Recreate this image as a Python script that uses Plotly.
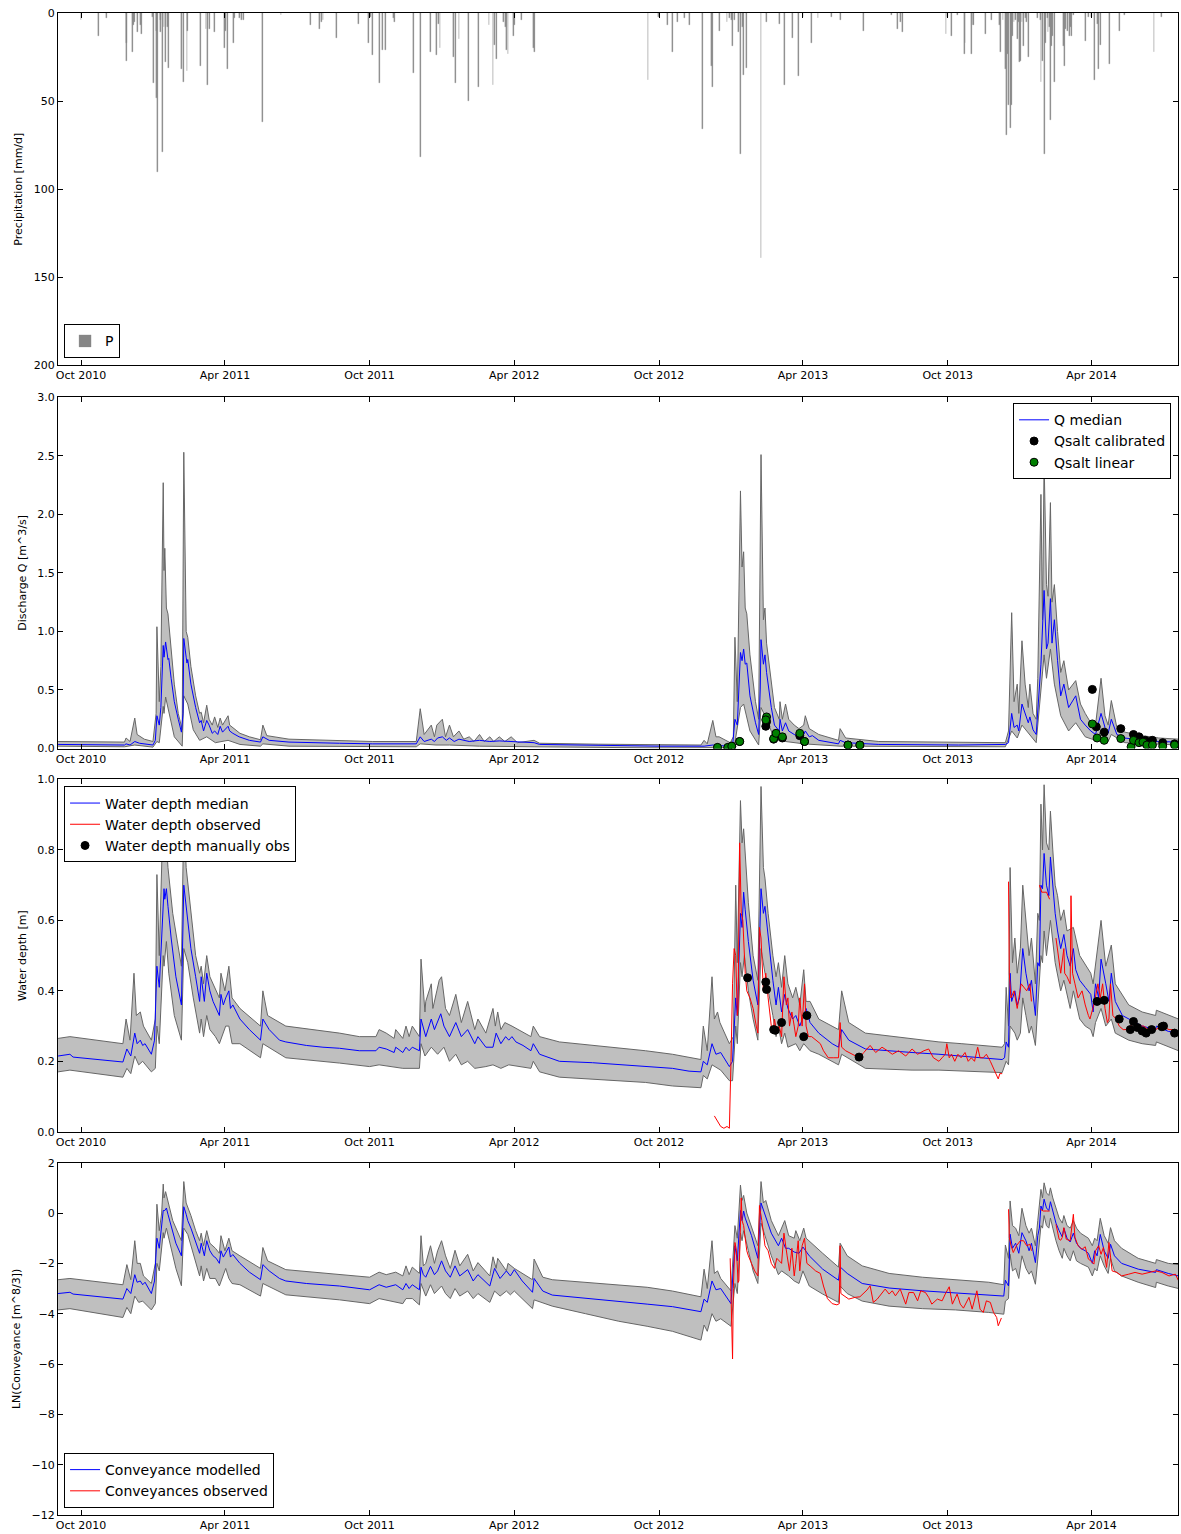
import plotly.graph_objects as go

# ---------------- DATA ----------------
P_RAIN = [
    ("2010-10-01", 4), ("2010-10-23", 13), ("2010-11-02", 3), ("2010-11-27", 27), ("2010-11-28", 17),
    ("2010-12-05", 22), ("2010-12-06", 7), ("2010-12-08", 5), ("2010-12-12", 11), ("2010-12-15", 7),
    ("2010-12-17", 12), ("2010-12-30", 2), ("2011-01-01", 40), ("2011-01-04", 10), ("2011-01-05", 48),
    ("2011-01-06", 90), ("2011-01-09", 4), ("2011-01-10", 11), ("2011-01-12", 79), ("2011-01-14", 8),
    ("2011-01-16", 28), ("2011-01-18", 8), ("2011-01-20", 31), ("2011-02-05", 32), ("2011-02-08", 39),
    ("2011-02-12", 33), ("2011-02-13", 10), ("2011-03-01", 30), ("2011-03-08", 9), ("2011-03-10", 41),
    ("2011-03-12", 9), ("2011-03-19", 11), ("2011-04-01", 20), ("2011-04-02", 10), ("2011-04-04", 32),
    ("2011-04-12", 17), ("2011-04-13", 3), ("2011-04-19", 3), ("2011-04-22", 4), ("2011-04-25", 4),
    ("2011-05-19", 62), ("2011-06-11", 1), ("2011-07-18", 7), ("2011-07-30", 9), ("2011-08-01", 5),
    ("2011-08-03", 4), ("2011-08-20", 14), ("2011-09-17", 6), ("2011-09-30", 17), ("2011-10-02", 2),
    ("2011-10-05", 24), ("2011-10-14", 40), ("2011-10-17", 21), ("2011-10-21", 21), ("2011-10-31", 3),
    ("2011-11-01", 5), ("2011-11-25", 34), ("2011-12-04", 82), ("2011-12-17", 22), ("2011-12-25", 24),
    ("2011-12-27", 6), ("2011-12-29", 20), ("2012-01-15", 25), ("2012-01-18", 40), ("2012-01-22", 15),
    ("2012-02-03", 50), ("2012-02-16", 42), ("2012-02-29", 7), ("2012-03-05", 41), ("2012-03-07", 18),
    ("2012-03-09", 26), ("2012-03-18", 5), ("2012-03-21", 8), ("2012-03-22", 21), ("2012-03-24", 23),
    ("2012-03-31", 13), ("2012-04-01", 7), ("2012-04-10", 4), ("2012-04-25", 20), ("2012-04-26", 22),
    ("2012-09-17", 38), ("2012-09-30", 2), ("2012-10-12", 7), ("2012-10-18", 22), ("2012-10-24", 5),
    ("2012-11-02", 3), ("2012-11-09", 7), ("2012-11-25", 66), ("2012-12-06", 30), ("2012-12-08", 42),
    ("2012-12-17", 10), ("2012-12-26", 5), ("2012-12-29", 3), ("2013-01-01", 4), ("2013-01-02", 19),
    ("2013-01-04", 4), ("2013-01-10", 11), ("2013-01-12", 80), ("2013-01-15", 8), ("2013-01-16", 35),
    ("2013-01-20", 31), ("2013-02-07", 139), ("2013-02-14", 5), ("2013-03-02", 6), ("2013-03-09", 41),
    ("2013-03-19", 14), ("2013-03-26", 36), ("2013-04-01", 2), ("2013-04-12", 17), ("2013-04-20", 3),
    ("2013-05-07", 2), ("2013-05-19", 4), ("2013-06-17", 10), ("2013-07-22", 1), ("2013-07-30", 9),
    ("2013-08-02", 5), ("2013-08-05", 11), ("2013-09-29", 12), ("2013-10-01", 2), ("2013-10-06", 13),
    ("2013-10-14", 1), ("2013-10-22", 23), ("2013-10-23", 17), ("2013-10-31", 23), ("2013-11-02", 7),
    ("2013-11-03", 7), ("2013-11-18", 12), ("2013-11-26", 4), ("2013-12-06", 7), ("2013-12-07", 22),
    ("2013-12-10", 4), ("2013-12-13", 32), ("2013-12-14", 69), ("2013-12-16", 23), ("2013-12-17", 52),
    ("2013-12-19", 65), ("2013-12-21", 52), ("2013-12-22", 13), ("2013-12-24", 5), ("2013-12-26", 4),
    ("2013-12-28", 15), ("2013-12-30", 5), ("2013-12-31", 28), ("2014-01-01", 27), ("2014-01-03", 5),
    ("2014-01-05", 19), ("2014-01-07", 3), ("2014-01-09", 5), ("2014-01-11", 25), ("2014-01-23", 3),
    ("2014-01-26", 4), ("2014-01-27", 39), ("2014-01-29", 27), ("2014-01-31", 80), ("2014-02-02", 17),
    ("2014-02-04", 3), ("2014-02-05", 11), ("2014-02-07", 8), ("2014-02-08", 61), ("2014-02-09", 19),
    ("2014-02-11", 13), ("2014-02-13", 39), ("2014-02-24", 19), ("2014-02-26", 30), ("2014-02-27", 9),
    ("2014-03-02", 10), ("2014-03-04", 13), ("2014-03-05", 8), ("2014-03-07", 13), ("2014-03-09", 1),
    ("2014-03-24", 16), ("2014-03-28", 2), ("2014-04-01", 2), ("2014-04-05", 38), ("2014-04-08", 6),
    ("2014-04-10", 32), ("2014-04-12", 18), ("2014-04-24", 29), ("2014-05-06", 10), ("2014-05-13", 1),
    ("2014-06-19", 22), ("2014-06-28", 2),
]

Q_MED = [
    ("2010-09-02", 0.035), ("2010-11-25", 0.03), ("2010-11-27", 0.04), ("2010-12-02", 0.03),
    ("2010-12-08", 0.06), ("2010-12-14", 0.045), ("2010-12-31", 0.03), ("2011-01-03", 0.07),
    ("2011-01-05", 0.28), ("2011-01-08", 0.2), ("2011-01-10", 0.35), ("2011-01-13", 0.88),
    ("2011-01-14", 0.78), ("2011-01-16", 0.91), ("2011-01-19", 0.76), ("2011-01-20", 0.77),
    ("2011-01-23", 0.6), ("2011-01-27", 0.4), ("2011-02-01", 0.25), ("2011-02-05", 0.14),
    ("2011-02-07", 0.3), ("2011-02-08", 0.94), ("2011-02-11", 0.78), ("2011-02-12", 0.73),
    ("2011-02-13", 0.76), ("2011-02-17", 0.55), ("2011-02-23", 0.35), ("2011-02-28", 0.22),
    ("2011-03-02", 0.24), ("2011-03-05", 0.15), ("2011-03-09", 0.24), ("2011-03-12", 0.2),
    ("2011-03-16", 0.13), ("2011-03-19", 0.15), ("2011-03-23", 0.12), ("2011-03-26", 0.19),
    ("2011-03-29", 0.14), ("2011-04-02", 0.17), ("2011-04-05", 0.19), ("2011-04-07", 0.15),
    ("2011-04-11", 0.13), ("2011-04-19", 0.1), ("2011-05-02", 0.07), ("2011-05-16", 0.055),
    ("2011-05-19", 0.1), ("2011-05-27", 0.07), ("2011-06-21", 0.055), ("2011-08-24", 0.045),
    ("2011-10-05", 0.04), ("2011-11-29", 0.04), ("2011-12-04", 0.1), ("2011-12-09", 0.06),
    ("2011-12-18", 0.08), ("2011-12-22", 0.06), ("2011-12-26", 0.09), ("2012-01-01", 0.1),
    ("2012-01-06", 0.07), ("2012-01-10", 0.09), ("2012-01-16", 0.06), ("2012-01-22", 0.08),
    ("2012-02-04", 0.06), ("2012-02-17", 0.07), ("2012-03-01", 0.06), ("2012-03-13", 0.065),
    ("2012-03-28", 0.06), ("2012-04-26", 0.05), ("2012-05-03", 0.035), ("2012-07-17", 0.025),
    ("2012-10-01", 0.02), ("2012-11-27", 0.02), ("2012-12-08", 0.03), ("2012-12-16", 0.025),
    ("2013-01-02", 0.02), ("2013-01-05", 0.25), ("2013-01-08", 0.2), ("2013-01-12", 0.82),
    ("2013-01-14", 0.75), ("2013-01-16", 0.85), ("2013-01-18", 0.72), ("2013-01-20", 0.73),
    ("2013-01-24", 0.45), ("2013-01-31", 0.22), ("2013-02-04", 0.12), ("2013-02-06", 0.5),
    ("2013-02-07", 0.93), ("2013-02-10", 0.72), ("2013-02-12", 0.8), ("2013-02-14", 0.65),
    ("2013-02-20", 0.35), ("2013-02-24", 0.2), ("2013-03-02", 0.15), ("2013-03-03", 0.25),
    ("2013-03-06", 0.15), ("2013-03-10", 0.22), ("2013-03-14", 0.15), ("2013-03-21", 0.12),
    ("2013-03-27", 0.1), ("2013-04-02", 0.12), ("2013-04-04", 0.15), ("2013-04-09", 0.1),
    ("2013-04-13", 0.11), ("2013-04-21", 0.07), ("2013-05-16", 0.04), ("2013-05-18", 0.07),
    ("2013-05-25", 0.05), ("2013-07-06", 0.035), ("2013-10-15", 0.03), ("2013-12-13", 0.035),
    ("2013-12-17", 0.05), ("2013-12-21", 0.3), ("2013-12-24", 0.18), ("2013-12-28", 0.2),
    ("2013-12-30", 0.15), ("2014-01-03", 0.38), ("2014-01-07", 0.3), ("2014-01-11", 0.22),
    ("2014-01-13", 0.27), ("2014-01-17", 0.16), ("2014-01-21", 0.12), ("2014-01-23", 0.3),
    ("2014-01-27", 0.72), ("2014-01-31", 1.35), ("2014-02-03", 0.85), ("2014-02-05", 0.9),
    ("2014-02-08", 1.28), ("2014-02-10", 0.9), ("2014-02-13", 1.1), ("2014-02-17", 0.75),
    ("2014-02-21", 0.45), ("2014-02-25", 0.55), ("2014-03-03", 0.35), ("2014-03-12", 0.45),
    ("2014-03-18", 0.25), ("2014-03-24", 0.2), ("2014-03-31", 0.15), ("2014-04-06", 0.12),
    ("2014-04-13", 0.3), ("2014-04-18", 0.18), ("2014-04-22", 0.13), ("2014-04-26", 0.25),
    ("2014-05-03", 0.12), ("2014-05-13", 0.09), ("2014-06-04", 0.07), ("2014-06-25", 0.06),
    ("2014-07-20", 0.055),
]

Q_UP = [
    ("2010-09-02", 0.06), ("2010-11-25", 0.055), ("2010-11-27", 0.09), ("2010-12-02", 0.06),
    ("2010-12-08", 0.26), ("2010-12-11", 0.12), ("2010-12-20", 0.08), ("2010-12-31", 0.06),
    ("2011-01-04", 0.3), ("2011-01-05", 1.04), ("2011-01-08", 0.4), ("2011-01-10", 0.7),
    ("2011-01-13", 2.27), ("2011-01-14", 1.52), ("2011-01-15", 1.71), ("2011-01-17", 1.2),
    ("2011-01-19", 1.15), ("2011-01-23", 0.85), ("2011-01-27", 0.55), ("2011-02-01", 0.3),
    ("2011-02-06", 0.16), ("2011-02-08", 2.53), ("2011-02-11", 1.0), ("2011-02-13", 0.95),
    ("2011-02-17", 0.7), ("2011-02-23", 0.45), ("2011-02-28", 0.3), ("2011-03-02", 0.31),
    ("2011-03-05", 0.22), ("2011-03-09", 0.37), ("2011-03-12", 0.25), ("2011-03-16", 0.2),
    ("2011-03-19", 0.27), ("2011-03-23", 0.18), ("2011-03-26", 0.26), ("2011-03-29", 0.2),
    ("2011-04-02", 0.24), ("2011-04-05", 0.28), ("2011-04-07", 0.2), ("2011-04-12", 0.17),
    ("2011-04-20", 0.13), ("2011-05-02", 0.1), ("2011-05-16", 0.075), ("2011-05-19", 0.2),
    ("2011-05-24", 0.11), ("2011-06-21", 0.08), ("2011-08-24", 0.065), ("2011-10-05", 0.06),
    ("2011-11-29", 0.06), ("2011-12-04", 0.34), ("2011-12-09", 0.12), ("2011-12-18", 0.2),
    ("2011-12-22", 0.1), ("2011-12-25", 0.2), ("2012-01-01", 0.25), ("2012-01-05", 0.1),
    ("2012-01-10", 0.2), ("2012-01-15", 0.1), ("2012-01-22", 0.15), ("2012-01-28", 0.08),
    ("2012-02-04", 0.1), ("2012-02-10", 0.06), ("2012-02-17", 0.12), ("2012-02-23", 0.06),
    ("2012-03-01", 0.1), ("2012-03-06", 0.06), ("2012-03-13", 0.1), ("2012-03-20", 0.06),
    ("2012-03-28", 0.1), ("2012-04-05", 0.05), ("2012-04-26", 0.07), ("2012-05-03", 0.045),
    ("2012-07-17", 0.037), ("2012-10-01", 0.033), ("2012-11-23", 0.03), ("2012-11-27", 0.07),
    ("2012-12-01", 0.04), ("2012-12-08", 0.24), ("2012-12-12", 0.1), ("2012-12-16", 0.1),
    ("2012-12-30", 0.05), ("2013-01-03", 0.1), ("2013-01-05", 0.95), ("2013-01-08", 0.4),
    ("2013-01-12", 2.2), ("2013-01-14", 1.55), ("2013-01-16", 1.68), ("2013-01-18", 1.2),
    ("2013-01-20", 1.15), ("2013-01-24", 0.8), ("2013-01-31", 0.4), ("2013-02-04", 0.25),
    ("2013-02-07", 2.51), ("2013-02-10", 1.1), ("2013-02-12", 1.2), ("2013-02-14", 0.9),
    ("2013-02-20", 0.55), ("2013-02-24", 0.35), ("2013-03-02", 0.25), ("2013-03-03", 0.4),
    ("2013-03-06", 0.25), ("2013-03-10", 0.38), ("2013-03-14", 0.25), ("2013-03-21", 0.2),
    ("2013-03-27", 0.17), ("2013-04-02", 0.2), ("2013-04-04", 0.28), ("2013-04-09", 0.17),
    ("2013-04-21", 0.12), ("2013-05-16", 0.07), ("2013-05-18", 0.17), ("2013-05-25", 0.09),
    ("2013-07-06", 0.06), ("2013-08-26", 0.055), ("2013-12-13", 0.05), ("2013-12-17", 0.15),
    ("2013-12-21", 1.16), ("2013-12-24", 0.4), ("2013-12-28", 0.55), ("2013-12-30", 0.3),
    ("2014-01-03", 0.92), ("2014-01-07", 0.55), ("2014-01-11", 0.35), ("2014-01-13", 0.55),
    ("2014-01-17", 0.3), ("2014-01-21", 0.25), ("2014-01-23", 0.6), ("2014-01-27", 2.17),
    ("2014-01-29", 1.1), ("2014-01-31", 2.46), ("2014-02-03", 1.4), ("2014-02-05", 1.3),
    ("2014-02-08", 2.1), ("2014-02-10", 1.25), ("2014-02-13", 1.4), ("2014-02-17", 1.0),
    ("2014-02-21", 0.65), ("2014-02-25", 0.75), ("2014-03-03", 0.5), ("2014-03-12", 0.58),
    ("2014-03-18", 0.38), ("2014-03-24", 0.3), ("2014-03-31", 0.22), ("2014-04-06", 0.2),
    ("2014-04-13", 0.6), ("2014-04-18", 0.28), ("2014-04-22", 0.2), ("2014-04-26", 0.41),
    ("2014-05-03", 0.18), ("2014-05-13", 0.14), ("2014-06-04", 0.11), ("2014-06-25", 0.09),
    ("2014-07-20", 0.08),
]

Q_LO = [
    ("2010-09-02", 0.02), ("2010-11-25", 0.015), ("2010-12-08", 0.03), ("2010-12-31", 0.012),
    ("2011-01-05", 0.06), ("2011-01-08", 0.05), ("2011-01-13", 0.36), ("2011-01-14", 0.3),
    ("2011-01-16", 0.44), ("2011-01-20", 0.3), ("2011-01-27", 0.1), ("2011-02-06", 0.02),
    ("2011-02-08", 0.45), ("2011-02-13", 0.38), ("2011-02-20", 0.16), ("2011-02-28", 0.07),
    ("2011-03-09", 0.1), ("2011-03-20", 0.05), ("2011-04-05", 0.07), ("2011-04-20", 0.035),
    ("2011-05-16", 0.02), ("2011-05-19", 0.04), ("2011-06-21", 0.02), ("2011-11-29", 0.015),
    ("2011-12-04", 0.04), ("2011-12-24", 0.03), ("2012-01-10", 0.03), ("2012-02-17", 0.02),
    ("2012-04-26", 0.015), ("2012-10-01", 0.005), ("2012-12-08", 0.008), ("2013-01-02", 0.005),
    ("2013-01-05", 0.05), ("2013-01-12", 0.35), ("2013-01-16", 0.38), ("2013-01-24", 0.15),
    ("2013-02-04", 0.03), ("2013-02-07", 0.35), ("2013-02-14", 0.25), ("2013-02-24", 0.08),
    ("2013-03-10", 0.06), ("2013-04-02", 0.04), ("2013-05-18", 0.02), ("2013-12-13", 0.015),
    ("2013-12-21", 0.15), ("2013-12-28", 0.09), ("2014-01-03", 0.2), ("2014-01-21", 0.05),
    ("2014-01-27", 0.5), ("2014-01-31", 0.8), ("2014-02-03", 0.6), ("2014-02-08", 0.85),
    ("2014-02-13", 0.55), ("2014-02-21", 0.28), ("2014-03-03", 0.15), ("2014-03-12", 0.22),
    ("2014-03-24", 0.1), ("2014-04-06", 0.07), ("2014-04-13", 0.15), ("2014-04-22", 0.06),
    ("2014-04-26", 0.12), ("2014-05-13", 0.05), ("2014-07-20", 0.03),
]

Q_CALIBRATED = [
    ("2012-12-14", 0.005), ("2012-12-27", 0.005), ("2013-01-01", 0.02), ("2013-01-11", 0.06),
    ("2013-02-13", 0.19), ("2013-02-14", 0.23), ("2013-02-23", 0.08), ("2013-02-26", 0.12),
    ("2013-03-06", 0.09), ("2013-03-28", 0.11), ("2013-04-03", 0.06), ("2013-05-28", 0.03),
    ("2013-06-12", 0.03), ("2014-04-02", 0.505), ("2014-04-07", 0.185), ("2014-04-17", 0.14),
    ("2014-05-08", 0.17), ("2014-05-24", 0.12), ("2014-05-31", 0.1), ("2014-06-08", 0.07),
    ("2014-06-17", 0.07), ("2014-06-30", 0.05), ("2014-07-15", 0.04),
]

Q_LINEAR = [
    ("2012-12-14", 0.01), ("2012-12-27", 0.01), ("2013-01-01", 0.02), ("2013-01-11", 0.06),
    ("2013-02-14", 0.27), ("2013-02-13", 0.245), ("2013-02-23", 0.085), ("2013-02-26", 0.13),
    ("2013-03-06", 0.1), ("2013-03-28", 0.13), ("2013-04-03", 0.06), ("2013-05-28", 0.03),
    ("2013-06-12", 0.03), ("2014-04-02", 0.21), ("2014-04-08", 0.09), ("2014-04-17", 0.07),
    ("2014-05-08", 0.085), ("2014-05-21", 0.015), ("2014-05-24", 0.07), ("2014-05-31", 0.05),
    ("2014-06-05", 0.055), ("2014-06-10", 0.03), ("2014-06-17", 0.03), ("2014-06-30", 0.02),
    ("2014-07-15", 0.03),
]

D_MED = [
    ("2010-09-02", 0.215), ("2010-09-17", 0.22), ("2010-09-21", 0.212), ("2010-11-23", 0.198),
    ("2010-11-28", 0.235), ("2010-12-03", 0.215), ("2010-12-08", 0.28), ("2010-12-11", 0.25),
    ("2010-12-15", 0.26), ("2010-12-18", 0.245), ("2010-12-21", 0.25), ("2010-12-29", 0.22),
    ("2011-01-02", 0.26), ("2011-01-05", 0.47), ("2011-01-08", 0.41), ("2011-01-13", 0.66),
    ("2011-01-14", 0.69), ("2011-01-15", 0.66), ("2011-01-17", 0.69), ("2011-01-19", 0.64),
    ("2011-01-23", 0.55), ("2011-01-29", 0.44), ("2011-02-05", 0.36), ("2011-02-08", 0.7),
    ("2011-02-11", 0.64), ("2011-02-13", 0.61), ("2011-02-17", 0.52), ("2011-02-23", 0.44),
    ("2011-02-28", 0.37), ("2011-03-02", 0.44), ("2011-03-06", 0.37), ("2011-03-09", 0.45),
    ("2011-03-13", 0.4), ("2011-03-17", 0.37), ("2011-03-21", 0.35), ("2011-03-25", 0.33),
    ("2011-03-27", 0.39), ("2011-03-30", 0.36), ("2011-04-02", 0.38), ("2011-04-06", 0.4),
    ("2011-04-08", 0.35), ("2011-04-11", 0.36), ("2011-04-20", 0.32), ("2011-05-02", 0.29),
    ("2011-05-16", 0.26), ("2011-05-19", 0.32), ("2011-05-27", 0.29), ("2011-06-09", 0.26),
    ("2011-06-17", 0.255), ("2011-07-13", 0.245), ("2011-08-03", 0.24), ("2011-08-24", 0.237),
    ("2011-09-18", 0.23), ("2011-10-09", 0.23), ("2011-10-13", 0.24), ("2011-10-22", 0.235),
    ("2011-11-01", 0.225), ("2011-11-03", 0.24), ("2011-11-12", 0.225), ("2011-11-16", 0.24),
    ("2011-11-20", 0.23), ("2011-11-24", 0.24), ("2011-12-03", 0.23), ("2011-12-05", 0.32),
    ("2011-12-11", 0.27), ("2011-12-18", 0.32), ("2011-12-22", 0.29), ("2011-12-26", 0.31),
    ("2011-12-30", 0.335), ("2012-01-03", 0.3), ("2012-01-10", 0.27), ("2012-01-18", 0.31),
    ("2012-01-25", 0.27), ("2012-02-02", 0.29), ("2012-02-11", 0.25), ("2012-02-15", 0.27),
    ("2012-02-25", 0.24), ("2012-03-05", 0.24), ("2012-03-09", 0.28), ("2012-03-15", 0.25),
    ("2012-03-21", 0.27), ("2012-03-25", 0.26), ("2012-03-29", 0.27), ("2012-04-03", 0.255),
    ("2012-04-12", 0.245), ("2012-04-22", 0.23), ("2012-04-25", 0.25), ("2012-05-03", 0.22),
    ("2012-05-28", 0.2), ("2012-07-09", 0.196), ("2012-09-14", 0.185), ("2012-10-18", 0.18),
    ("2012-11-08", 0.172), ("2012-11-23", 0.17), ("2012-11-26", 0.2), ("2012-12-01", 0.19),
    ("2012-12-07", 0.25), ("2012-12-12", 0.22), ("2012-12-18", 0.225), ("2012-12-29", 0.185),
    ("2013-01-02", 0.2), ("2013-01-06", 0.38), ("2013-01-08", 0.33), ("2013-01-12", 0.62),
    ("2013-01-14", 0.58), ("2013-01-16", 0.68), ("2013-01-18", 0.63), ("2013-01-22", 0.54),
    ("2013-01-28", 0.43), ("2013-02-03", 0.36), ("2013-02-07", 0.69), ("2013-02-10", 0.62),
    ("2013-02-12", 0.64), ("2013-02-16", 0.55), ("2013-02-22", 0.43), ("2013-02-26", 0.36),
    ("2013-03-01", 0.41), ("2013-03-05", 0.34), ("2013-03-09", 0.39), ("2013-03-13", 0.35),
    ("2013-03-19", 0.32), ("2013-03-23", 0.33), ("2013-03-28", 0.3), ("2013-04-02", 0.33),
    ("2013-04-05", 0.35), ("2013-04-10", 0.31), ("2013-04-21", 0.28), ("2013-05-08", 0.25),
    ("2013-05-16", 0.24), ("2013-05-20", 0.29), ("2013-05-29", 0.26), ("2013-06-19", 0.235),
    ("2013-07-14", 0.23), ("2013-08-17", 0.225), ("2013-09-20", 0.22), ("2013-10-19", 0.215),
    ("2013-11-09", 0.21), ("2013-12-09", 0.205), ("2013-12-12", 0.21), ("2013-12-14", 0.255),
    ("2013-12-17", 0.24), ("2013-12-19", 0.45), ("2013-12-21", 0.37), ("2013-12-25", 0.4),
    ("2013-12-28", 0.36), ("2013-12-31", 0.38), ("2014-01-04", 0.52), ("2014-01-08", 0.45),
    ("2014-01-12", 0.4), ("2014-01-15", 0.43), ("2014-01-20", 0.33), ("2014-01-23", 0.48),
    ("2014-01-25", 0.47), ("2014-01-27", 0.7), ("2014-01-29", 0.69), ("2014-01-31", 0.79),
    ("2014-02-03", 0.7), ("2014-02-06", 0.67), ("2014-02-08", 0.78), ("2014-02-11", 0.7),
    ("2014-02-14", 0.62), ("2014-02-17", 0.57), ("2014-02-21", 0.52), ("2014-02-25", 0.56),
    ("2014-03-01", 0.5), ("2014-03-05", 0.47), ("2014-03-09", 0.52), ("2014-03-12", 0.46),
    ("2014-03-17", 0.43), ("2014-03-24", 0.41), ("2014-03-31", 0.39), ("2014-04-03", 0.34),
    ("2014-04-06", 0.42), ("2014-04-10", 0.38), ("2014-04-13", 0.49), ("2014-04-19", 0.42),
    ("2014-04-23", 0.37), ("2014-04-26", 0.45), ("2014-05-01", 0.37), ("2014-05-10", 0.33),
    ("2014-05-18", 0.32), ("2014-06-04", 0.3), ("2014-06-21", 0.29), ("2014-06-22", 0.3),
    ("2014-07-07", 0.285), ("2014-07-20", 0.28),
]

D_UP = [
    ("2010-09-02", 0.265), ("2010-09-17", 0.27), ("2010-11-23", 0.25), ("2010-11-27", 0.32),
    ("2010-12-02", 0.26), ("2010-12-07", 0.45), ("2010-12-10", 0.33), ("2010-12-15", 0.34),
    ("2010-12-19", 0.3), ("2010-12-29", 0.26), ("2011-01-03", 0.32), ("2011-01-05", 0.73),
    ("2011-01-08", 0.5), ("2011-01-13", 0.92), ("2011-01-14", 0.78), ("2011-01-16", 0.85),
    ("2011-01-19", 0.75), ("2011-01-25", 0.62), ("2011-02-05", 0.47), ("2011-02-08", 0.9),
    ("2011-02-11", 0.75), ("2011-02-17", 0.62), ("2011-02-23", 0.5), ("2011-02-28", 0.45),
    ("2011-03-02", 0.47), ("2011-03-05", 0.42), ("2011-03-09", 0.5), ("2011-03-13", 0.44),
    ("2011-03-17", 0.42), ("2011-03-25", 0.38), ("2011-03-27", 0.45), ("2011-04-01", 0.4),
    ("2011-04-06", 0.47), ("2011-04-10", 0.38), ("2011-04-20", 0.35), ("2011-05-16", 0.3),
    ("2011-05-19", 0.4), ("2011-05-25", 0.33), ("2011-06-17", 0.3), ("2011-08-24", 0.28),
    ("2011-09-18", 0.27), ("2011-10-09", 0.27), ("2011-10-13", 0.29), ("2011-10-22", 0.28),
    ("2011-11-01", 0.265), ("2011-11-03", 0.29), ("2011-11-12", 0.265), ("2011-11-16", 0.3),
    ("2011-11-20", 0.27), ("2011-11-24", 0.3), ("2011-12-03", 0.27), ("2011-12-05", 0.49),
    ("2011-12-10", 0.34), ("2011-12-11", 0.37), ("2011-12-18", 0.42), ("2011-12-20", 0.35),
    ("2011-12-25", 0.4), ("2011-12-28", 0.43), ("2011-12-31", 0.44), ("2012-01-05", 0.35),
    ("2012-01-10", 0.33), ("2012-01-18", 0.39), ("2012-01-25", 0.31), ("2012-02-02", 0.37),
    ("2012-02-11", 0.29), ("2012-02-15", 0.32), ("2012-02-25", 0.28), ("2012-03-05", 0.35),
    ("2012-03-08", 0.3), ("2012-03-11", 0.34), ("2012-03-15", 0.29), ("2012-03-20", 0.31),
    ("2012-03-29", 0.3), ("2012-04-22", 0.27), ("2012-04-25", 0.3), ("2012-05-03", 0.27),
    ("2012-05-28", 0.255), ("2012-09-14", 0.23), ("2012-10-18", 0.22), ("2012-11-23", 0.205),
    ("2012-11-26", 0.3), ("2012-12-01", 0.23), ("2012-12-07", 0.44), ("2012-12-10", 0.32),
    ("2012-12-14", 0.34), ("2012-12-17", 0.31), ("2012-12-29", 0.25), ("2013-01-03", 0.27),
    ("2013-01-06", 0.7), ("2013-01-08", 0.48), ("2013-01-12", 0.94), ("2013-01-14", 0.82),
    ("2013-01-16", 0.86), ("2013-01-19", 0.75), ("2013-01-22", 0.65), ("2013-01-28", 0.5),
    ("2013-02-03", 0.43), ("2013-02-07", 0.98), ("2013-02-10", 0.75), ("2013-02-12", 0.72),
    ("2013-02-16", 0.62), ("2013-02-22", 0.5), ("2013-02-26", 0.44), ("2013-03-01", 0.48),
    ("2013-03-05", 0.41), ("2013-03-09", 0.5), ("2013-03-13", 0.42), ("2013-03-19", 0.38),
    ("2013-03-23", 0.41), ("2013-03-28", 0.36), ("2013-04-02", 0.46), ("2013-04-05", 0.37),
    ("2013-04-10", 0.37), ("2013-04-21", 0.32), ("2013-05-16", 0.29), ("2013-05-20", 0.4),
    ("2013-05-29", 0.31), ("2013-06-19", 0.28), ("2013-08-17", 0.265), ("2013-09-20", 0.255),
    ("2013-10-19", 0.25), ("2013-12-09", 0.24), ("2013-12-12", 0.25), ("2013-12-14", 0.41),
    ("2013-12-17", 0.3), ("2013-12-19", 0.75), ("2013-12-22", 0.48), ("2013-12-25", 0.55),
    ("2013-12-28", 0.45), ("2014-01-01", 0.52), ("2014-01-04", 0.7), ("2014-01-08", 0.6),
    ("2014-01-12", 0.5), ("2014-01-15", 0.55), ("2014-01-20", 0.42), ("2014-01-23", 0.62),
    ("2014-01-25", 0.6), ("2014-01-27", 0.93), ("2014-01-29", 0.8), ("2014-01-31", 0.985),
    ("2014-02-03", 0.82), ("2014-02-06", 0.8), ("2014-02-08", 0.91), ("2014-02-11", 0.8),
    ("2014-02-14", 0.7), ("2014-02-17", 0.67), ("2014-02-21", 0.6), ("2014-02-25", 0.63),
    ("2014-03-01", 0.57), ("2014-03-09", 0.58), ("2014-03-17", 0.5), ("2014-03-31", 0.45),
    ("2014-04-03", 0.42), ("2014-04-13", 0.6), ("2014-04-19", 0.47), ("2014-04-26", 0.53),
    ("2014-05-01", 0.42), ("2014-05-18", 0.36), ("2014-06-04", 0.34), ("2014-06-21", 0.33),
    ("2014-06-22", 0.345), ("2014-07-20", 0.32),
]

D_LO = [
    ("2010-09-02", 0.17), ("2010-09-17", 0.175), ("2010-11-23", 0.155), ("2010-11-28", 0.18),
    ("2010-12-03", 0.165), ("2010-12-08", 0.215), ("2010-12-13", 0.19), ("2010-12-18", 0.2),
    ("2010-12-29", 0.17), ("2011-01-03", 0.18), ("2011-01-05", 0.3), ("2011-01-08", 0.25),
    ("2011-01-13", 0.5), ("2011-01-14", 0.47), ("2011-01-17", 0.54), ("2011-01-20", 0.45),
    ("2011-01-27", 0.33), ("2011-02-05", 0.26), ("2011-02-08", 0.52), ("2011-02-13", 0.48),
    ("2011-02-20", 0.38), ("2011-02-28", 0.28), ("2011-03-02", 0.32), ("2011-03-05", 0.27),
    ("2011-03-09", 0.33), ("2011-03-13", 0.29), ("2011-03-20", 0.27), ("2011-03-25", 0.25),
    ("2011-04-02", 0.3), ("2011-04-06", 0.3), ("2011-04-10", 0.25), ("2011-04-20", 0.25),
    ("2011-05-16", 0.21), ("2011-05-19", 0.25), ("2011-06-17", 0.21), ("2011-08-24", 0.195),
    ("2011-10-01", 0.185), ("2011-10-13", 0.19), ("2011-11-12", 0.18), ("2011-12-03", 0.18),
    ("2011-12-05", 0.25), ("2011-12-10", 0.215), ("2011-12-18", 0.24), ("2011-12-26", 0.22),
    ("2012-01-03", 0.24), ("2012-01-10", 0.2), ("2012-01-18", 0.22), ("2012-01-25", 0.19),
    ("2012-02-02", 0.2), ("2012-02-11", 0.18), ("2012-02-25", 0.185), ("2012-03-05", 0.19),
    ("2012-03-15", 0.18), ("2012-03-25", 0.19), ("2012-04-22", 0.18), ("2012-04-25", 0.2),
    ("2012-05-03", 0.17), ("2012-05-28", 0.155), ("2012-09-14", 0.14), ("2012-10-18", 0.13),
    ("2012-11-23", 0.125), ("2012-11-26", 0.16), ("2012-12-01", 0.15), ("2012-12-07", 0.19),
    ("2012-12-18", 0.175), ("2012-12-29", 0.145), ("2013-01-02", 0.145), ("2013-01-06", 0.3),
    ("2013-01-08", 0.25), ("2013-01-12", 0.48), ("2013-01-14", 0.44), ("2013-01-17", 0.5),
    ("2013-01-22", 0.4), ("2013-01-28", 0.32), ("2013-02-03", 0.26), ("2013-02-07", 0.52),
    ("2013-02-12", 0.45), ("2013-02-16", 0.4), ("2013-02-22", 0.33), ("2013-02-26", 0.27),
    ("2013-03-01", 0.3), ("2013-03-05", 0.25), ("2013-03-09", 0.28), ("2013-03-13", 0.24),
    ("2013-03-23", 0.25), ("2013-03-28", 0.23), ("2013-04-02", 0.25), ("2013-04-10", 0.23),
    ("2013-04-21", 0.22), ("2013-05-16", 0.19), ("2013-05-20", 0.22), ("2013-06-19", 0.18),
    ("2013-08-17", 0.175), ("2013-09-20", 0.175), ("2013-12-09", 0.168), ("2013-12-14", 0.2),
    ("2013-12-17", 0.19), ("2013-12-19", 0.3), ("2013-12-25", 0.28), ("2013-12-28", 0.26),
    ("2014-01-01", 0.28), ("2014-01-04", 0.38), ("2014-01-08", 0.33), ("2014-01-12", 0.28),
    ("2014-01-15", 0.3), ("2014-01-20", 0.245), ("2014-01-23", 0.35), ("2014-01-27", 0.5),
    ("2014-01-29", 0.48), ("2014-01-31", 0.57), ("2014-02-03", 0.5), ("2014-02-08", 0.6),
    ("2014-02-14", 0.48), ("2014-02-21", 0.4), ("2014-02-25", 0.43), ("2014-03-05", 0.35),
    ("2014-03-09", 0.4), ("2014-03-17", 0.32), ("2014-03-24", 0.3), ("2014-03-31", 0.29),
    ("2014-04-03", 0.27), ("2014-04-06", 0.31), ("2014-04-13", 0.35), ("2014-04-19", 0.3),
    ("2014-04-26", 0.32), ("2014-05-01", 0.28), ("2014-05-18", 0.26), ("2014-06-04", 0.25),
    ("2014-06-21", 0.245), ("2014-06-22", 0.255), ("2014-07-20", 0.23),
]

D_OBS = [
    ("2012-12-10", 0.045), ("2012-12-14", 0.03), ("2012-12-18", 0.015), ("2012-12-22", 0.01),
    ("2012-12-26", 0.015), ("2012-12-29", 0.01), ("2012-12-30", 0.09), ("2012-12-31", 0.2),
    ("2013-01-02", 0.42), ("2013-01-04", 0.52), ("2013-01-06", 0.5), ("2013-01-08", 0.33),
    ("2013-01-09", 0.35), ("2013-01-11", 0.82), ("2013-01-13", 0.62), ("2013-01-15", 0.6),
    ("2013-01-18", 0.45), ("2013-01-20", 0.4), ("2013-01-24", 0.38), ("2013-01-28", 0.35),
    ("2013-02-01", 0.3), ("2013-02-03", 0.28), ("2013-02-05", 0.58), ("2013-02-07", 0.55),
    ("2013-02-10", 0.4), ("2013-02-13", 0.45), ("2013-02-16", 0.38), ("2013-02-20", 0.3),
    ("2013-02-22", 0.28), ("2013-02-24", 0.32), ("2013-02-27", 0.28), ("2013-03-02", 0.3),
    ("2013-03-05", 0.27), ("2013-03-08", 0.44), ("2013-03-11", 0.36), ("2013-03-13", 0.38),
    ("2013-03-15", 0.3), ("2013-03-18", 0.34), ("2013-03-21", 0.3), ("2013-03-23", 0.27),
    ("2013-03-26", 0.3), ("2013-03-28", 0.38), ("2013-03-31", 0.3), ("2013-04-03", 0.42),
    ("2013-04-05", 0.3), ("2013-04-08", 0.27), ("2013-04-12", 0.27), ("2013-04-17", 0.26),
    ("2013-04-23", 0.25), ("2013-04-27", 0.23), ("2013-05-03", 0.21), ("2013-05-10", 0.21),
    ("2013-05-16", 0.21), ("2013-05-18", 0.31), ("2013-05-20", 0.24), ("2013-05-25", 0.23),
    ("2013-06-02", 0.22), ("2013-06-11", 0.21), ("2013-06-17", 0.225), ("2013-06-25", 0.245),
    ("2013-07-02", 0.225), ("2013-07-10", 0.24), ("2013-07-17", 0.23), ("2013-07-23", 0.22),
    ("2013-07-31", 0.23), ("2013-08-09", 0.215), ("2013-08-17", 0.235), ("2013-08-24", 0.22),
    ("2013-09-01", 0.23), ("2013-09-07", 0.235), ("2013-09-13", 0.21), ("2013-09-20", 0.2),
    ("2013-09-24", 0.21), ("2013-09-28", 0.22), ("2013-09-30", 0.25), ("2013-10-03", 0.21),
    ("2013-10-06", 0.22), ("2013-10-10", 0.2), ("2013-10-14", 0.22), ("2013-10-18", 0.21),
    ("2013-10-23", 0.225), ("2013-10-27", 0.2), ("2013-10-31", 0.21), ("2013-11-04", 0.2),
    ("2013-11-08", 0.24), ("2013-11-11", 0.21), ("2013-11-15", 0.21), ("2013-11-19", 0.22),
    ("2013-11-24", 0.2), ("2013-11-28", 0.18), ("2013-11-30", 0.17), ("2013-12-04", 0.15),
    ("2013-12-06", 0.165), ("2013-12-09", 0.165), ("2013-12-13", None), ("2013-12-17", 0.71),
    ("2013-12-18", 0.45), ("2013-12-20", 0.38), ("2013-12-24", 0.4), ("2013-12-28", 0.35),
    ("2014-01-02", 0.42), ("2014-01-09", 0.4), ("2014-01-13", 0.42), ("2014-01-15", 0.37),
    ("2014-01-20", None), ("2014-01-25", 0.7), ("2014-01-28", 0.68), ("2014-02-03", 0.68),
    ("2014-02-07", 0.66), ("2014-02-11", None), ("2014-02-15", 0.55), ("2014-02-18", 0.5),
    ("2014-02-20", 0.47), ("2014-02-21", 0.45), ("2014-02-25", 0.52), ("2014-02-26", 0.45),
    ("2014-03-01", 0.44), ("2014-03-05", 0.42), ("2014-03-06", 0.67), ("2014-03-08", 0.45),
    ("2014-03-11", 0.42), ("2014-03-15", 0.38), ("2014-03-20", 0.4), ("2014-03-24", 0.36),
    ("2014-03-28", 0.33), ("2014-03-30", 0.32), ("2014-04-05", 0.37), ("2014-04-09", 0.42),
    ("2014-04-12", 0.38), ("2014-04-15", 0.42), ("2014-04-18", 0.35), ("2014-04-21", 0.31),
    ("2014-04-23", 0.32), ("2014-04-25", 0.42), ("2014-04-28", 0.33), ("2014-05-02", 0.32),
    ("2014-05-06", 0.3), ("2014-05-11", 0.29), ("2014-05-17", 0.29), ("2014-05-24", 0.31),
    ("2014-05-30", 0.3), ("2014-06-06", 0.3), ("2014-06-12", 0.29), ("2014-06-21", 0.29),
    ("2014-06-29", 0.3), ("2014-07-08", 0.29), ("2014-07-16", 0.29), ("2014-07-21", 0.27),
]

D_MANUAL = [
    ("2013-01-21", 0.437), ("2013-02-13", 0.425), ("2013-02-14", 0.404), ("2013-02-23", 0.29),
    ("2013-02-25", 0.288), ("2013-03-05", 0.31), ("2013-04-02", 0.27), ("2013-04-06", 0.33),
    ("2013-06-11", 0.212), ("2014-04-08", 0.37), ("2014-04-17", 0.373), ("2014-05-06", 0.32),
    ("2014-05-20", 0.29), ("2014-05-24", 0.313), ("2014-05-29", 0.296), ("2014-06-04", 0.286),
    ("2014-06-09", 0.28), ("2014-06-16", 0.29), ("2014-06-29", 0.298), ("2014-07-01", 0.3),
    ("2014-07-15", 0.28),
]

C_MED = [
    ("2010-09-02", -3.2), ("2010-09-17", -3.15), ("2010-09-21", -3.22), ("2010-11-23", -3.42),
    ("2010-11-28", -3.0), ("2010-12-03", -3.2), ("2010-12-08", -2.45), ("2010-12-11", -2.75),
    ("2010-12-15", -2.7), ("2010-12-18", -2.85), ("2010-12-21", -2.75), ("2010-12-29", -3.2),
    ("2011-01-02", -2.7), ("2011-01-05", -1.0), ("2011-01-08", -1.4), ("2011-01-13", 0.1),
    ("2011-01-15", 0.1), ("2011-01-17", 0.2), ("2011-01-19", -0.05), ("2011-01-23", -0.55),
    ("2011-01-29", -1.2), ("2011-02-05", -1.7), ("2011-02-08", 0.25), ("2011-02-11", -0.05),
    ("2011-02-13", -0.3), ("2011-02-17", -0.6), ("2011-02-23", -1.1), ("2011-02-28", -1.6),
    ("2011-03-02", -1.2), ("2011-03-06", -1.7), ("2011-03-09", -1.1), ("2011-03-13", -1.5),
    ("2011-03-17", -1.7), ("2011-03-21", -1.8), ("2011-03-25", -2.0), ("2011-03-27", -1.5),
    ("2011-03-30", -1.75), ("2011-04-02", -1.55), ("2011-04-06", -1.35), ("2011-04-08", -1.75),
    ("2011-04-11", -1.65), ("2011-04-20", -2.0), ("2011-05-02", -2.35), ("2011-05-16", -2.65),
    ("2011-05-19", -2.05), ("2011-05-27", -2.3), ("2011-06-09", -2.6), ("2011-06-17", -2.7),
    ("2011-07-13", -2.8), ("2011-08-24", -2.9), ("2011-10-01", -3.05), ("2011-10-13", -2.85),
    ("2011-10-22", -2.95), ("2011-11-03", -2.85), ("2011-11-12", -3.05), ("2011-11-16", -2.8),
    ("2011-11-20", -3.0), ("2011-11-24", -2.85), ("2011-12-03", -3.05), ("2011-12-05", -2.15),
    ("2011-12-08", -2.45), ("2011-12-11", -2.55), ("2011-12-17", -2.12), ("2011-12-22", -2.45),
    ("2011-12-26", -2.3), ("2011-12-31", -1.9), ("2012-01-05", -2.3), ("2012-01-11", -2.55),
    ("2012-01-17", -2.1), ("2012-01-23", -2.5), ("2012-02-02", -2.25), ("2012-02-09", -2.7),
    ("2012-02-15", -2.45), ("2012-03-01", -2.9), ("2012-03-07", -2.2), ("2012-03-14", -2.6),
    ("2012-03-22", -2.3), ("2012-03-27", -2.5), ("2012-04-01", -2.25), ("2012-04-11", -2.7),
    ("2012-04-24", -3.15), ("2012-04-26", -2.6), ("2012-05-07", -3.1), ("2012-05-19", -3.26),
    ("2012-06-30", -3.38), ("2012-08-11", -3.49), ("2012-09-16", -3.62), ("2012-10-18", -3.72),
    ("2012-11-23", -3.92), ("2012-11-27", -3.42), ("2012-12-01", -3.55), ("2012-12-07", -2.7),
    ("2012-12-12", -3.05), ("2012-12-18", -3.0), ("2012-12-31", -3.6), ("2013-01-05", -1.3),
    ("2013-01-08", -1.9), ("2013-01-12", 0.1), ("2013-01-14", -0.3), ("2013-01-16", 0.08),
    ("2013-01-18", -0.2), ("2013-01-26", -0.9), ("2013-02-03", -1.8), ("2013-02-07", 0.4),
    ("2013-02-12", -0.1), ("2013-02-20", -0.8), ("2013-03-01", -1.3), ("2013-03-05", -1.0),
    ("2013-03-10", -1.4), ("2013-03-14", -1.4), ("2013-03-21", -1.55), ("2013-03-27", -1.6),
    ("2013-04-01", -1.35), ("2013-04-09", -1.7), ("2013-04-26", -2.23), ("2013-05-16", -2.67),
    ("2013-05-18", -2.14), ("2013-05-27", -2.4), ("2013-06-15", -2.8), ("2013-07-19", -2.98),
    ("2013-08-30", -3.09), ("2013-10-11", -3.18), ("2013-11-22", -3.26), ("2013-12-11", -3.3),
    ("2013-12-13", -2.67), ("2013-12-17", -2.9), ("2013-12-19", -0.84), ("2013-12-22", -1.4),
    ("2013-12-26", -1.2), ("2013-12-30", -1.6), ("2014-01-03", -0.78), ("2014-01-08", -1.1),
    ("2014-01-12", -1.5), ("2014-01-15", -1.2), ("2014-01-20", -1.97), ("2014-01-23", -0.9),
    ("2014-01-25", -0.6), ("2014-01-27", 0.28), ("2014-01-29", 0.1), ("2014-01-31", 0.55),
    ("2014-02-03", 0.2), ("2014-02-06", 0.1), ("2014-02-08", 0.45), ("2014-02-11", 0.1),
    ("2014-02-15", -0.4), ("2014-02-19", -0.7), ("2014-02-23", -0.95), ("2014-02-25", -0.6),
    ("2014-03-01", -1.0), ("2014-03-05", -1.15), ("2014-03-09", -0.8), ("2014-03-13", -1.2),
    ("2014-03-18", -1.4), ("2014-03-24", -1.5), ("2014-03-28", -1.6), ("2014-04-02", -2.0),
    ("2014-04-05", -1.5), ("2014-04-08", -1.7), ("2014-04-12", -0.85), ("2014-04-17", -1.5),
    ("2014-04-22", -1.8), ("2014-04-25", -1.24), ("2014-04-30", -1.7), ("2014-05-09", -2.0),
    ("2014-05-30", -2.23), ("2014-06-21", -2.36), ("2014-06-22", -2.25), ("2014-07-07", -2.4),
    ("2014-07-20", -2.5),
]

C_UP = [
    ("2010-09-02", -2.65), ("2010-09-17", -2.6), ("2010-11-23", -2.85), ("2010-11-28", -2.05),
    ("2010-12-03", -2.65), ("2010-12-08", -1.1), ("2010-12-11", -2.0), ("2010-12-15", -2.0),
    ("2010-12-19", -2.5), ("2010-12-29", -2.8), ("2011-01-03", -2.0), ("2011-01-05", 0.35),
    ("2011-01-08", -0.7), ("2011-01-11", 0.0), ("2011-01-13", 1.15), ("2011-01-14", 0.6),
    ("2011-01-16", 0.85), ("2011-01-19", 0.5), ("2011-01-25", -0.3), ("2011-02-05", -1.1),
    ("2011-02-08", 1.25), ("2011-02-11", 0.4), ("2011-02-17", -0.1), ("2011-02-23", -0.7),
    ("2011-02-28", -1.1), ("2011-03-02", -0.8), ("2011-03-05", -1.3), ("2011-03-09", -0.7),
    ("2011-03-13", -1.2), ("2011-03-20", -1.4), ("2011-03-25", -1.6), ("2011-03-27", -0.9),
    ("2011-04-01", -1.5), ("2011-04-06", -1.0), ("2011-04-10", -1.5), ("2011-04-20", -1.7),
    ("2011-05-16", -2.2), ("2011-05-19", -1.37), ("2011-05-25", -1.9), ("2011-06-17", -2.25),
    ("2011-08-24", -2.45), ("2011-10-01", -2.55), ("2011-10-13", -2.35), ("2011-10-22", -2.45),
    ("2011-11-03", -2.35), ("2011-11-12", -2.5), ("2011-11-16", -2.1), ("2011-11-20", -2.45),
    ("2011-11-24", -2.15), ("2011-12-03", -2.4), ("2011-12-05", -0.9), ("2011-12-08", -2.1),
    ("2011-12-11", -2.0), ("2011-12-17", -1.3), ("2011-12-22", -2.0), ("2011-12-26", -1.5),
    ("2011-12-31", -1.1), ("2012-01-05", -1.7), ("2012-01-11", -2.2), ("2012-01-17", -1.48),
    ("2012-01-23", -2.1), ("2012-02-02", -1.64), ("2012-02-09", -2.3), ("2012-02-15", -1.97),
    ("2012-03-01", -2.5), ("2012-03-05", -1.74), ("2012-03-09", -2.2), ("2012-03-11", -1.8),
    ("2012-03-22", -2.3), ("2012-03-24", -2.0), ("2012-04-01", -2.2), ("2012-04-24", -2.65),
    ("2012-04-26", -1.83), ("2012-05-07", -2.55), ("2012-05-19", -2.65), ("2012-06-30", -2.75),
    ("2012-08-11", -2.85), ("2012-09-16", -2.95), ("2012-10-18", -3.1), ("2012-11-23", -3.33),
    ("2012-11-27", -2.23), ("2012-12-01", -3.0), ("2012-12-07", -1.1), ("2012-12-10", -2.4),
    ("2012-12-14", -2.3), ("2012-12-18", -2.6), ("2012-12-31", -3.09), ("2013-01-05", -0.5),
    ("2013-01-08", -1.0), ("2013-01-12", 1.11), ("2013-01-14", 0.5), ("2013-01-16", 0.7),
    ("2013-01-20", 0.0), ("2013-01-28", -0.8), ("2013-02-03", -1.3), ("2013-02-07", 1.25),
    ("2013-02-10", 0.4), ("2013-02-13", 0.5), ("2013-02-20", -0.3), ("2013-03-01", -0.9),
    ("2013-03-09", -0.3), ("2013-03-14", -0.9), ("2013-03-21", -1.0), ("2013-03-23", -0.7),
    ("2013-03-28", -1.1), ("2013-04-02", -0.6), ("2013-04-05", -1.0), ("2013-04-26", -1.6),
    ("2013-05-16", -2.15), ("2013-05-18", -1.2), ("2013-05-27", -1.7), ("2013-06-15", -2.1),
    ("2013-07-19", -2.4), ("2013-08-30", -2.55), ("2013-10-11", -2.65), ("2013-11-22", -2.75),
    ("2013-12-11", -2.85), ("2013-12-13", -1.27), ("2013-12-17", -1.8), ("2013-12-19", 0.48),
    ("2013-12-22", -0.5), ("2013-12-26", -0.6), ("2013-12-30", -0.9), ("2014-01-03", 0.19),
    ("2014-01-08", -0.5), ("2014-01-12", -0.8), ("2014-01-15", -0.6), ("2014-01-20", -1.3),
    ("2014-01-23", -0.3), ("2014-01-27", 0.94), ("2014-01-29", 0.6), ("2014-01-31", 1.2),
    ("2014-02-03", 0.8), ("2014-02-06", 0.7), ("2014-02-08", 1.0), ("2014-02-11", 0.6),
    ("2014-02-15", 0.2), ("2014-02-19", -0.2), ("2014-02-23", -0.4), ("2014-02-25", -0.1),
    ("2014-03-01", -0.5), ("2014-03-05", -0.6), ("2014-03-09", -0.3), ("2014-03-13", -0.6),
    ("2014-03-18", -0.8), ("2014-03-24", -0.9), ("2014-03-28", -1.0), ("2014-04-02", -1.3),
    ("2014-04-05", -1.0), ("2014-04-08", -1.1), ("2014-04-12", -0.21), ("2014-04-17", -0.9),
    ("2014-04-22", -1.2), ("2014-04-25", -0.58), ("2014-04-30", -1.1), ("2014-05-09", -1.4),
    ("2014-05-30", -1.8), ("2014-06-21", -2.0), ("2014-06-22", -1.85), ("2014-07-07", -2.0),
    ("2014-07-20", -2.05),
]

C_LO = [
    ("2010-09-02", -3.85), ("2010-09-17", -3.8), ("2010-11-23", -4.15), ("2010-11-28", -3.75),
    ("2010-12-03", -4.0), ("2010-12-08", -3.3), ("2010-12-13", -3.55), ("2010-12-18", -3.5),
    ("2010-12-29", -3.85), ("2011-01-03", -3.6), ("2011-01-05", -2.0), ("2011-01-08", -2.3),
    ("2011-01-13", -0.78), ("2011-01-14", -1.0), ("2011-01-17", -0.6), ("2011-01-22", -1.2),
    ("2011-01-29", -2.2), ("2011-02-05", -2.89), ("2011-02-08", -0.6), ("2011-02-13", -0.85),
    ("2011-02-20", -1.6), ("2011-02-28", -2.5), ("2011-03-02", -2.1), ("2011-03-05", -2.7),
    ("2011-03-09", -2.2), ("2011-03-13", -2.6), ("2011-03-20", -2.6), ("2011-03-25", -2.9),
    ("2011-04-02", -2.2), ("2011-04-06", -2.6), ("2011-04-10", -2.8), ("2011-04-20", -2.85),
    ("2011-05-16", -3.3), ("2011-05-19", -2.8), ("2011-06-17", -3.25), ("2011-08-24", -3.45),
    ("2011-10-01", -3.6), ("2011-10-13", -3.4), ("2011-11-12", -3.6), ("2011-11-16", -3.4),
    ("2011-11-24", -3.4), ("2011-12-03", -3.65), ("2011-12-05", -2.8), ("2011-12-11", -3.3),
    ("2011-12-17", -2.85), ("2011-12-22", -3.2), ("2011-12-31", -2.9), ("2012-01-05", -3.2),
    ("2012-01-11", -3.4), ("2012-01-17", -3.0), ("2012-01-23", -3.3), ("2012-02-02", -3.1),
    ("2012-02-09", -3.4), ("2012-02-15", -3.2), ("2012-03-01", -3.55), ("2012-03-07", -3.1),
    ("2012-03-14", -3.3), ("2012-03-22", -3.1), ("2012-03-27", -3.25), ("2012-04-01", -3.1),
    ("2012-04-24", -3.8), ("2012-04-26", -3.45), ("2012-05-19", -3.7), ("2012-06-30", -4.0),
    ("2012-08-11", -4.3), ("2012-09-16", -4.5), ("2012-10-18", -4.7), ("2012-11-23", -5.05),
    ("2012-11-27", -4.45), ("2012-12-01", -4.7), ("2012-12-07", -4.0), ("2012-12-12", -4.3),
    ("2012-12-18", -4.2), ("2012-12-31", -4.5), ("2013-01-05", -2.8), ("2013-01-08", -3.2),
    ("2013-01-12", -0.8), ("2013-01-14", -1.1), ("2013-01-16", -0.7), ("2013-01-22", -1.5),
    ("2013-01-28", -2.3), ("2013-02-03", -2.8), ("2013-02-07", -0.4), ("2013-02-12", -0.9),
    ("2013-02-20", -1.7), ("2013-03-01", -2.45), ("2013-03-05", -2.3), ("2013-03-14", -2.5),
    ("2013-03-21", -2.7), ("2013-03-27", -2.8), ("2013-04-01", -2.3), ("2013-04-09", -2.9),
    ("2013-04-26", -3.22), ("2013-05-16", -3.55), ("2013-05-18", -2.9), ("2013-05-27", -3.2),
    ("2013-06-15", -3.5), ("2013-07-19", -3.7), ("2013-08-30", -3.8), ("2013-10-11", -3.85),
    ("2013-11-22", -3.95), ("2013-12-11", -4.02), ("2013-12-13", -3.5), ("2013-12-17", -3.4),
    ("2013-12-19", -1.64), ("2013-12-22", -2.3), ("2013-12-26", -2.2), ("2013-12-30", -2.6),
    ("2014-01-03", -1.7), ("2014-01-08", -2.2), ("2014-01-12", -2.43), ("2014-01-15", -2.3),
    ("2014-01-20", -2.83), ("2014-01-23", -1.7), ("2014-01-27", -0.5), ("2014-01-29", -0.6),
    ("2014-01-31", -0.1), ("2014-02-03", -0.5), ("2014-02-06", -0.6), ("2014-02-08", -0.2),
    ("2014-02-11", -0.6), ("2014-02-15", -1.1), ("2014-02-19", -1.5), ("2014-02-23", -1.8),
    ("2014-02-25", -1.4), ("2014-03-01", -1.7), ("2014-03-05", -1.9), ("2014-03-09", -1.5),
    ("2014-03-13", -1.9), ("2014-03-18", -2.0), ("2014-03-24", -2.1), ("2014-03-28", -2.15),
    ("2014-04-02", -2.5), ("2014-04-05", -2.2), ("2014-04-08", -2.3), ("2014-04-12", -1.7),
    ("2014-04-17", -2.1), ("2014-04-22", -2.4), ("2014-04-25", -1.8), ("2014-04-30", -2.3),
    ("2014-05-09", -2.5), ("2014-05-30", -2.75), ("2014-06-21", -2.96), ("2014-06-22", -2.75),
    ("2014-07-07", -2.9), ("2014-07-20", -3.0),
]

C_OBS = [
    ("2012-12-30", -1.8), ("2012-12-31", -3.3), ("2013-01-02", -5.8), ("2013-01-03", -3.0),
    ("2013-01-05", -1.17), ("2013-01-07", -1.5), ("2013-01-09", -2.76), ("2013-01-10", -2.7),
    ("2013-01-13", 0.6), ("2013-01-14", -0.3), ("2013-01-16", -0.5), ("2013-01-20", -1.5),
    ("2013-01-22", -1.7), ("2013-01-26", -2.0), ("2013-01-30", -2.3), ("2013-02-03", -2.5),
    ("2013-02-05", 0.3), ("2013-02-08", -0.3), ("2013-02-12", -1.3), ("2013-02-16", -1.5),
    ("2013-02-20", -2.0), ("2013-02-24", -2.2), ("2013-02-27", -1.8), ("2013-03-05", -2.0),
    ("2013-03-08", -0.8), ("2013-03-12", -1.7), ("2013-03-15", -2.3), ("2013-03-18", -1.4),
    ("2013-03-21", -2.5), ("2013-03-23", -2.0), ("2013-03-26", -1.1), ("2013-03-28", -2.3),
    ("2013-03-31", -1.3), ("2013-04-03", -1.0), ("2013-04-06", -2.0), ("2013-04-10", -2.1),
    ("2013-04-17", -2.3), ("2013-04-23", -2.4), ("2013-04-27", -2.9), ("2013-05-02", -3.4),
    ("2013-05-08", -3.6), ("2013-05-14", -3.65), ("2013-05-17", -3.6), ("2013-05-18", -1.3),
    ("2013-05-19", -3.2), ("2013-05-29", -3.42), ("2013-06-06", -3.35), ("2013-06-12", -3.33),
    ("2013-06-21", -3.06), ("2013-06-25", -2.89), ("2013-06-29", -3.55), ("2013-07-04", -3.42),
    ("2013-07-10", -3.16), ("2013-07-14", -3.02), ("2013-07-19", -3.22), ("2013-07-23", -3.09),
    ("2013-07-27", -3.29), ("2013-08-02", -3.02), ("2013-08-09", -3.62), ("2013-08-13", -3.16),
    ("2013-08-19", -3.16), ("2013-08-24", -3.49), ("2013-08-28", -3.09), ("2013-09-03", -3.16),
    ("2013-09-07", -3.35), ("2013-09-11", -3.62), ("2013-09-18", -3.42), ("2013-09-24", -3.49),
    ("2013-09-28", -3.22), ("2013-10-03", -2.93), ("2013-10-07", -3.62), ("2013-10-13", -3.22),
    ("2013-10-17", -3.62), ("2013-10-21", -3.78), ("2013-10-28", -3.35), ("2013-11-01", -3.82),
    ("2013-11-07", -3.09), ("2013-11-11", -3.82), ("2013-11-15", -3.95), ("2013-11-19", -3.49),
    ("2013-11-24", -3.55), ("2013-11-28", -3.95), ("2013-12-02", -4.15), ("2013-12-04", -4.48),
    ("2013-12-08", -4.17), ("2013-12-12", None), ("2013-12-17", 0.15), ("2013-12-18", -0.97),
    ("2013-12-20", -1.27), ("2013-12-23", -1.57), ("2013-12-27", -1.3), ("2014-01-01", -1.1),
    ("2014-01-05", -1.1), ("2014-01-09", -1.3), ("2014-01-13", -1.24), ("2014-01-15", -1.5),
    ("2014-01-20", None), ("2014-01-26", 0.15), ("2014-01-30", 0.08), ("2014-02-03", 0.08),
    ("2014-02-07", 0.08), ("2014-02-11", None), ("2014-02-15", -0.45), ("2014-02-16", -0.64),
    ("2014-02-19", -1.04), ("2014-02-21", -1.08), ("2014-02-23", -0.97), ("2014-02-25", -0.58),
    ("2014-02-28", -1.04), ("2014-03-05", -1.1), ("2014-03-09", -0.05), ("2014-03-11", -0.97),
    ("2014-03-15", -1.3), ("2014-03-20", -1.44), ("2014-03-24", -1.34), ("2014-03-28", -1.83),
    ("2014-03-31", -1.9), ("2014-04-04", -2.03), ("2014-04-06", -1.5), ("2014-04-10", -1.3),
    ("2014-04-13", -1.64), ("2014-04-16", -1.37), ("2014-04-20", -2.16), ("2014-04-23", -1.17),
    ("2014-04-27", -2.3), ("2014-05-03", -2.36), ("2014-05-09", -2.5), ("2014-05-18", -2.43),
    ("2014-05-26", -2.36), ("2014-06-04", -2.43), ("2014-06-12", -2.36), ("2014-06-21", -2.3),
    ("2014-06-29", -2.36), ("2014-07-08", -2.5), ("2014-07-16", -2.43), ("2014-07-20", -2.69),
]

X_RANGE = ["2010-09-01 22:00", "2014-07-19 08:00"]
TICK_DATES = ["2010-10-01", "2011-04-01", "2011-10-01", "2012-04-01",
              "2012-10-01", "2013-04-01", "2013-10-01", "2014-04-01"]
TICK_TEXT = ["Oct 2010", "Apr 2011", "Oct 2011", "Apr 2012",
             "Oct 2012", "Apr 2013", "Oct 2013", "Apr 2014"]

# ---------------- FIGURE ----------------
FONT = "DejaVu Sans"
BAND_FILL = "#bfbfbf"
BAND_EDGE = "#666666"


def split(pairs):
    return [p[0] for p in pairs], [p[1] for p in pairs]


fig = go.Figure()


def add_band(up, lo, xa, ya):
    ux, uy = split(up)
    lx, ly = split(lo)
    fig.add_trace(go.Scatter(
        x=ux + lx[::-1], y=uy + ly[::-1], mode="lines", fill="toself",
        fillcolor=BAND_FILL, line=dict(color=BAND_EDGE, width=1),
        showlegend=False, hoverinfo="skip", xaxis=xa, yaxis=ya))


def add_line(pairs, name, color, xa, ya, legend):
    x, y = split(pairs)
    fig.add_trace(go.Scatter(
        x=x, y=y, mode="lines", name=name, line=dict(color=color, width=1),
        xaxis=xa, yaxis=ya, legend=legend))


def add_dots(pairs, name, color, xa, ya, legend):
    x, y = split(pairs)
    fig.add_trace(go.Scatter(
        x=x, y=y, mode="markers", name=name,
        marker=dict(color=color, size=8, line=dict(color="black", width=1)),
        xaxis=xa, yaxis=ya, legend=legend))


# Panel 1: precipitation bars
px_, py_ = split(P_RAIN)
fig.add_trace(go.Bar(
    x=px_, y=py_, name="P", width=86400000 * 1.1,
    marker=dict(color="#868686", line=dict(color="#868686", width=0.3)),
    xaxis="x", yaxis="y", legend="legend"))

# Panel 2: discharge
add_band(Q_UP, Q_LO, "x2", "y2")
add_line(Q_MED, "Q median", "#0000ff", "x2", "y2", "legend2")
add_dots(Q_CALIBRATED, "Qsalt calibrated", "black", "x2", "y2", "legend2")
add_dots(Q_LINEAR, "Qsalt linear", "#007f00", "x2", "y2", "legend2")

# Panel 3: water depth
add_band(D_UP, D_LO, "x3", "y3")
add_line(D_MED, "Water depth median", "#0000ff", "x3", "y3", "legend3")
add_line(D_OBS, "Water depth observed", "#ff0000", "x3", "y3", "legend3")
add_dots(D_MANUAL, "Water depth manually obs", "black", "x3", "y3", "legend3")

# Panel 4: conveyance
add_band(C_UP, C_LO, "x4", "y4")
add_line(C_MED, "Conveyance modelled", "#0000ff", "x4", "y4", "legend4")
add_line(C_OBS, "Conveyances observed", "#ff0000", "x4", "y4", "legend4")

axis_common = dict(showline=True, linecolor="black", linewidth=1, mirror="allticks",
                   ticks="inside", ticklen=5, tickcolor="black", showgrid=False,
                   zeroline=False, tickfont=dict(family=FONT, size=11, color="black"))

domains = {
    1: [0.76545, 1.0],
    2: [0.51030, 0.74419],
    3: [0.25515, 0.48970],
    4: [0.0, 0.23455],
}

layout = dict(
    width=1181, height=1534,
    margin=dict(l=58, r=2, t=13, b=16),
    paper_bgcolor="white", plot_bgcolor="white",
    font=dict(family=FONT, size=11, color="black"),
    bargap=0,
)

for i in range(1, 5):
    sx = "" if i == 1 else str(i)
    layout["xaxis" + sx] = dict(
        axis_common, domain=[0, 1], anchor="y" + sx, type="date", range=X_RANGE,
        tickvals=TICK_DATES, ticktext=TICK_TEXT)

layout["yaxis"] = dict(axis_common, domain=domains[1], anchor="x", range=[200, 0],
                       tickvals=[0, 50, 100, 150, 200],
                       title=dict(text="Precipitation [mm/d]", standoff=8,
                                  font=dict(family=FONT, size=11)))
layout["yaxis2"] = dict(axis_common, domain=domains[2], anchor="x2", range=[0, 3],
                        dtick=0.5, tickformat=".1f",
                        title=dict(text="Discharge Q [m^3/s]", standoff=8,
                                   font=dict(family=FONT, size=11)))
layout["yaxis3"] = dict(axis_common, domain=domains[3], anchor="x3", range=[0, 1],
                        dtick=0.2, tickformat=".1f",
                        title=dict(text="Water depth [m]", standoff=8,
                                   font=dict(family=FONT, size=11)))
layout["yaxis4"] = dict(axis_common, domain=domains[4], anchor="x4", range=[-12, 2],
                        dtick=2,
                        title=dict(text="LN(Conveyance [m^8/3])", standoff=8,
                                   font=dict(family=FONT, size=11)))

legend_common = dict(bgcolor="white", bordercolor="black", borderwidth=1,
                     font=dict(family=FONT, size=14, color="black"), tracegroupgap=0)
layout["legend"] = dict(legend_common, x=0.0054, y=0.7701, xanchor="left", yanchor="bottom")
layout["legend2"] = dict(legend_common, x=0.9938, y=0.7402, xanchor="right", yanchor="top")
layout["legend3"] = dict(legend_common, x=0.0054, y=0.48505, xanchor="left", yanchor="top")
layout["legend4"] = dict(legend_common, x=0.0054, y=0.00465, xanchor="left", yanchor="bottom")

fig.update_layout(**layout)
fig.write_html("out.html")
